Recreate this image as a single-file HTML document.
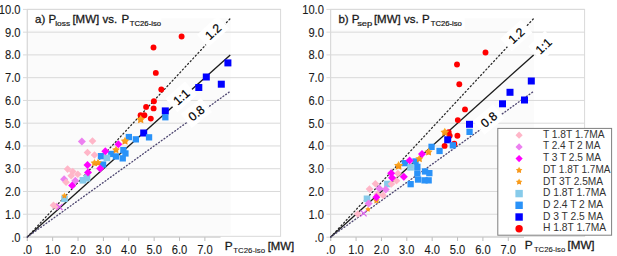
<!DOCTYPE html>
<html><head><meta charset="utf-8"><style>
html,body{margin:0;padding:0;background:#fff;}
body{width:617px;height:256px;overflow:hidden;}
svg{display:block;font-family:"Liberation Sans", sans-serif;}
text{stroke:#1a1a1a;stroke-width:0.1px;}
</style></head><body>
<svg width="617" height="256" viewBox="0 0 617 256">
<defs><linearGradient id="sg" x1="0" y1="0" x2="0" y2="1"><stop offset="0" stop-color="#ffb22c"/><stop offset="1" stop-color="#f48a0e"/></linearGradient></defs>
<rect x="27.30" y="9.4" width="253.30" height="226.90" fill="#fff" stroke="#d9d9d9" stroke-width="1"/>
<rect x="27.80" y="18.3" width="202.8" height="216.20" fill="#fbfbfb"/>
<line x1="23.00" y1="214.24" x2="280.60" y2="214.24" stroke="#d9d9d9" stroke-width="1"/>
<line x1="23.00" y1="191.48" x2="280.60" y2="191.48" stroke="#d9d9d9" stroke-width="1"/>
<line x1="23.00" y1="168.72" x2="280.60" y2="168.72" stroke="#d9d9d9" stroke-width="1"/>
<line x1="23.00" y1="145.96" x2="280.60" y2="145.96" stroke="#d9d9d9" stroke-width="1"/>
<line x1="23.00" y1="123.20" x2="280.60" y2="123.20" stroke="#d9d9d9" stroke-width="1"/>
<line x1="23.00" y1="100.44" x2="280.60" y2="100.44" stroke="#d9d9d9" stroke-width="1"/>
<line x1="23.00" y1="77.68" x2="280.60" y2="77.68" stroke="#d9d9d9" stroke-width="1"/>
<line x1="23.00" y1="54.92" x2="280.60" y2="54.92" stroke="#d9d9d9" stroke-width="1"/>
<line x1="23.00" y1="32.16" x2="280.60" y2="32.16" stroke="#d9d9d9" stroke-width="1"/>
<line x1="23.00" y1="9.40" x2="280.60" y2="9.40" stroke="#d9d9d9" stroke-width="1"/>
<line x1="23.00" y1="237.2" x2="220.60" y2="237.2" stroke="#cdcdcd" stroke-width="1"/>
<line x1="27.30" y1="9.4" x2="27.30" y2="241.00" stroke="#d9d9d9" stroke-width="1"/>
<line x1="27.30" y1="237.2" x2="27.30" y2="241.00" stroke="#bcbcbc" stroke-width="1"/>
<line x1="52.67" y1="237.2" x2="52.67" y2="241.00" stroke="#bcbcbc" stroke-width="1"/>
<line x1="78.04" y1="237.2" x2="78.04" y2="241.00" stroke="#bcbcbc" stroke-width="1"/>
<line x1="103.41" y1="237.2" x2="103.41" y2="241.00" stroke="#bcbcbc" stroke-width="1"/>
<line x1="128.78" y1="237.2" x2="128.78" y2="241.00" stroke="#bcbcbc" stroke-width="1"/>
<line x1="154.15" y1="237.2" x2="154.15" y2="241.00" stroke="#bcbcbc" stroke-width="1"/>
<line x1="179.52" y1="237.2" x2="179.52" y2="241.00" stroke="#bcbcbc" stroke-width="1"/>
<line x1="204.89" y1="237.2" x2="204.89" y2="241.00" stroke="#bcbcbc" stroke-width="1"/>
<text x="20.50" y="241.50" text-anchor="end" font-size="12" textLength="9.31" lengthAdjust="spacingAndGlyphs" fill="#1a1a1a">.0</text>
<text x="20.50" y="218.74" text-anchor="end" font-size="12" textLength="15.51" lengthAdjust="spacingAndGlyphs" fill="#1a1a1a">1.0</text>
<text x="20.50" y="195.98" text-anchor="end" font-size="12" textLength="15.51" lengthAdjust="spacingAndGlyphs" fill="#1a1a1a">2.0</text>
<text x="20.50" y="173.22" text-anchor="end" font-size="12" textLength="15.51" lengthAdjust="spacingAndGlyphs" fill="#1a1a1a">3.0</text>
<text x="20.50" y="150.46" text-anchor="end" font-size="12" textLength="15.51" lengthAdjust="spacingAndGlyphs" fill="#1a1a1a">4.0</text>
<text x="20.50" y="127.70" text-anchor="end" font-size="12" textLength="15.51" lengthAdjust="spacingAndGlyphs" fill="#1a1a1a">5.0</text>
<text x="20.50" y="104.94" text-anchor="end" font-size="12" textLength="15.51" lengthAdjust="spacingAndGlyphs" fill="#1a1a1a">6.0</text>
<text x="20.50" y="82.18" text-anchor="end" font-size="12" textLength="15.51" lengthAdjust="spacingAndGlyphs" fill="#1a1a1a">7.0</text>
<text x="20.50" y="59.42" text-anchor="end" font-size="12" textLength="15.51" lengthAdjust="spacingAndGlyphs" fill="#1a1a1a">8.0</text>
<text x="20.50" y="36.66" text-anchor="end" font-size="12" textLength="15.51" lengthAdjust="spacingAndGlyphs" fill="#1a1a1a">9.0</text>
<text x="20.50" y="13.90" text-anchor="end" font-size="12" textLength="21.72" lengthAdjust="spacingAndGlyphs" fill="#1a1a1a">10.0</text>
<text x="27.30" y="254.2" text-anchor="middle" font-size="12" textLength="9.31" lengthAdjust="spacingAndGlyphs" fill="#1a1a1a">.0</text>
<text x="52.67" y="254.2" text-anchor="middle" font-size="12" textLength="15.51" lengthAdjust="spacingAndGlyphs" fill="#1a1a1a">1.0</text>
<text x="78.04" y="254.2" text-anchor="middle" font-size="12" textLength="15.51" lengthAdjust="spacingAndGlyphs" fill="#1a1a1a">2.0</text>
<text x="103.41" y="254.2" text-anchor="middle" font-size="12" textLength="15.51" lengthAdjust="spacingAndGlyphs" fill="#1a1a1a">3.0</text>
<text x="128.78" y="254.2" text-anchor="middle" font-size="12" textLength="15.51" lengthAdjust="spacingAndGlyphs" fill="#1a1a1a">4.0</text>
<text x="154.15" y="254.2" text-anchor="middle" font-size="12" textLength="15.51" lengthAdjust="spacingAndGlyphs" fill="#1a1a1a">5.0</text>
<text x="179.52" y="254.2" text-anchor="middle" font-size="12" textLength="15.51" lengthAdjust="spacingAndGlyphs" fill="#1a1a1a">6.0</text>
<text x="204.89" y="254.2" text-anchor="middle" font-size="12" textLength="15.51" lengthAdjust="spacingAndGlyphs" fill="#1a1a1a">7.0</text>
<rect x="220.80" y="237.6" width="75" height="19" fill="#fff"/>
<text x="224.70" y="250.4" font-size="11.2" textLength="7.9" lengthAdjust="spacingAndGlyphs" fill="#1a1a1a" style="stroke-width:0.3px">P</text>
<text x="233.20" y="253.00" font-size="7.8" style="stroke-width:0.12px" textLength="31.9" lengthAdjust="spacingAndGlyphs" fill="#1a1a1a">TC26-iso</text>
<text x="267.70" y="250.4" font-size="11.2" textLength="26.5" lengthAdjust="spacingAndGlyphs" fill="#1a1a1a" style="stroke-width:0.3px">[MW]</text>
<rect x="28.30" y="10.2" width="133" height="19.5" fill="#fff"/>
<text x="35.00" y="23.4" font-size="11.5" fill="#1a1a1a" style="stroke-width:0.3px">a) P</text>
<text x="55.20" y="25.9" font-size="7.2" textLength="14.9" lengthAdjust="spacingAndGlyphs" fill="#1a1a1a" style="stroke-width:0.2px">loss</text>
<text x="72.40" y="23.4" font-size="11.5" fill="#1a1a1a" style="stroke-width:0.3px">[MW] vs.</text>
<text x="121.50" y="23.4" font-size="11.5" fill="#1a1a1a" style="stroke-width:0.3px">P</text>
<text x="129.80" y="25.9" font-size="7.2" textLength="31.3" lengthAdjust="spacingAndGlyphs" fill="#1a1a1a" style="stroke-width:0.2px">TC26-iso</text>
<line x1="27.30" y1="237.0" x2="230.26" y2="18.50" stroke="#262626" stroke-width="1.25" stroke-dasharray="1.2 2.6" stroke-linecap="round"/>
<line x1="27.30" y1="237.0" x2="230.26" y2="54.92" stroke="#1c1c1c" stroke-width="1.35"/>
<line x1="27.30" y1="237.0" x2="230.26" y2="91.34" stroke="#4f4872" stroke-width="1.35" stroke-dasharray="0.9 2.4" stroke-linecap="round"/>
<rect x="330.70" y="9.4" width="253.90" height="226.90" fill="#fff" stroke="#d9d9d9" stroke-width="1"/>
<rect x="331.20" y="18.3" width="202.8" height="216.20" fill="#fbfbfb"/>
<line x1="326.40" y1="214.24" x2="584.60" y2="214.24" stroke="#d9d9d9" stroke-width="1"/>
<line x1="326.40" y1="191.48" x2="584.60" y2="191.48" stroke="#d9d9d9" stroke-width="1"/>
<line x1="326.40" y1="168.72" x2="584.60" y2="168.72" stroke="#d9d9d9" stroke-width="1"/>
<line x1="326.40" y1="145.96" x2="584.60" y2="145.96" stroke="#d9d9d9" stroke-width="1"/>
<line x1="326.40" y1="123.20" x2="584.60" y2="123.20" stroke="#d9d9d9" stroke-width="1"/>
<line x1="326.40" y1="100.44" x2="584.60" y2="100.44" stroke="#d9d9d9" stroke-width="1"/>
<line x1="326.40" y1="77.68" x2="584.60" y2="77.68" stroke="#d9d9d9" stroke-width="1"/>
<line x1="326.40" y1="54.92" x2="584.60" y2="54.92" stroke="#d9d9d9" stroke-width="1"/>
<line x1="326.40" y1="32.16" x2="584.60" y2="32.16" stroke="#d9d9d9" stroke-width="1"/>
<line x1="326.40" y1="9.40" x2="584.60" y2="9.40" stroke="#d9d9d9" stroke-width="1"/>
<line x1="326.40" y1="237.2" x2="524.00" y2="237.2" stroke="#cdcdcd" stroke-width="1"/>
<line x1="330.70" y1="9.4" x2="330.70" y2="241.00" stroke="#d9d9d9" stroke-width="1"/>
<line x1="330.70" y1="237.2" x2="330.70" y2="241.00" stroke="#bcbcbc" stroke-width="1"/>
<line x1="356.07" y1="237.2" x2="356.07" y2="241.00" stroke="#bcbcbc" stroke-width="1"/>
<line x1="381.44" y1="237.2" x2="381.44" y2="241.00" stroke="#bcbcbc" stroke-width="1"/>
<line x1="406.81" y1="237.2" x2="406.81" y2="241.00" stroke="#bcbcbc" stroke-width="1"/>
<line x1="432.18" y1="237.2" x2="432.18" y2="241.00" stroke="#bcbcbc" stroke-width="1"/>
<line x1="457.55" y1="237.2" x2="457.55" y2="241.00" stroke="#bcbcbc" stroke-width="1"/>
<line x1="482.92" y1="237.2" x2="482.92" y2="241.00" stroke="#bcbcbc" stroke-width="1"/>
<line x1="508.29" y1="237.2" x2="508.29" y2="241.00" stroke="#bcbcbc" stroke-width="1"/>
<text x="323.90" y="241.50" text-anchor="end" font-size="12" textLength="9.31" lengthAdjust="spacingAndGlyphs" fill="#1a1a1a">.0</text>
<text x="323.90" y="218.74" text-anchor="end" font-size="12" textLength="15.51" lengthAdjust="spacingAndGlyphs" fill="#1a1a1a">1.0</text>
<text x="323.90" y="195.98" text-anchor="end" font-size="12" textLength="15.51" lengthAdjust="spacingAndGlyphs" fill="#1a1a1a">2.0</text>
<text x="323.90" y="173.22" text-anchor="end" font-size="12" textLength="15.51" lengthAdjust="spacingAndGlyphs" fill="#1a1a1a">3.0</text>
<text x="323.90" y="150.46" text-anchor="end" font-size="12" textLength="15.51" lengthAdjust="spacingAndGlyphs" fill="#1a1a1a">4.0</text>
<text x="323.90" y="127.70" text-anchor="end" font-size="12" textLength="15.51" lengthAdjust="spacingAndGlyphs" fill="#1a1a1a">5.0</text>
<text x="323.90" y="104.94" text-anchor="end" font-size="12" textLength="15.51" lengthAdjust="spacingAndGlyphs" fill="#1a1a1a">6.0</text>
<text x="323.90" y="82.18" text-anchor="end" font-size="12" textLength="15.51" lengthAdjust="spacingAndGlyphs" fill="#1a1a1a">7.0</text>
<text x="323.90" y="59.42" text-anchor="end" font-size="12" textLength="15.51" lengthAdjust="spacingAndGlyphs" fill="#1a1a1a">8.0</text>
<text x="323.90" y="36.66" text-anchor="end" font-size="12" textLength="15.51" lengthAdjust="spacingAndGlyphs" fill="#1a1a1a">9.0</text>
<text x="323.90" y="13.90" text-anchor="end" font-size="12" textLength="21.72" lengthAdjust="spacingAndGlyphs" fill="#1a1a1a">10.0</text>
<text x="330.70" y="254.2" text-anchor="middle" font-size="12" textLength="9.31" lengthAdjust="spacingAndGlyphs" fill="#1a1a1a">.0</text>
<text x="356.07" y="254.2" text-anchor="middle" font-size="12" textLength="15.51" lengthAdjust="spacingAndGlyphs" fill="#1a1a1a">1.0</text>
<text x="381.44" y="254.2" text-anchor="middle" font-size="12" textLength="15.51" lengthAdjust="spacingAndGlyphs" fill="#1a1a1a">2.0</text>
<text x="406.81" y="254.2" text-anchor="middle" font-size="12" textLength="15.51" lengthAdjust="spacingAndGlyphs" fill="#1a1a1a">3.0</text>
<text x="432.18" y="254.2" text-anchor="middle" font-size="12" textLength="15.51" lengthAdjust="spacingAndGlyphs" fill="#1a1a1a">4.0</text>
<text x="457.55" y="254.2" text-anchor="middle" font-size="12" textLength="15.51" lengthAdjust="spacingAndGlyphs" fill="#1a1a1a">5.0</text>
<text x="482.92" y="254.2" text-anchor="middle" font-size="12" textLength="15.51" lengthAdjust="spacingAndGlyphs" fill="#1a1a1a">6.0</text>
<text x="508.29" y="254.2" text-anchor="middle" font-size="12" textLength="15.51" lengthAdjust="spacingAndGlyphs" fill="#1a1a1a">7.0</text>
<rect x="524.20" y="237.6" width="75" height="19" fill="#fff"/>
<text x="524.70" y="249.2" font-size="11.2" textLength="7.9" lengthAdjust="spacingAndGlyphs" fill="#1a1a1a" style="stroke-width:0.3px">P</text>
<text x="533.90" y="251.80" font-size="7.8" style="stroke-width:0.12px" textLength="31.3" lengthAdjust="spacingAndGlyphs" fill="#1a1a1a">TC26-iso</text>
<text x="567.50" y="249.2" font-size="11.2" textLength="27.1" lengthAdjust="spacingAndGlyphs" fill="#1a1a1a" style="stroke-width:0.3px">[MW]</text>
<rect x="331.70" y="10.2" width="133" height="19.5" fill="#fff"/>
<text x="338.40" y="23.4" font-size="11.5" fill="#1a1a1a" style="stroke-width:0.3px">b) P</text>
<text x="357.20" y="25.9" font-size="7.2" textLength="15.1" lengthAdjust="spacingAndGlyphs" fill="#1a1a1a" style="stroke-width:0.2px">sep</text>
<text x="373.90" y="23.4" font-size="11.5" fill="#1a1a1a" style="stroke-width:0.3px">[MW] vs.</text>
<text x="422.10" y="23.4" font-size="11.5" fill="#1a1a1a" style="stroke-width:0.3px">P</text>
<text x="430.80" y="25.9" font-size="7.2" textLength="31.1" lengthAdjust="spacingAndGlyphs" fill="#1a1a1a" style="stroke-width:0.2px">TC26-iso</text>
<line x1="330.70" y1="237.0" x2="533.66" y2="18.50" stroke="#262626" stroke-width="1.25" stroke-dasharray="1.2 2.6" stroke-linecap="round"/>
<line x1="330.70" y1="237.0" x2="533.66" y2="54.92" stroke="#1c1c1c" stroke-width="1.35"/>
<line x1="330.70" y1="237.0" x2="533.66" y2="91.34" stroke="#4f4872" stroke-width="1.35" stroke-dasharray="0.9 2.4" stroke-linecap="round"/>
<g transform="translate(213.00,31.60) rotate(-42.5)"><rect x="-14.0" y="-8.5" width="28" height="17" fill="#fff"/><text x="0" y="4.39" text-anchor="middle" font-size="12.2" fill="#000" style="stroke:#000;stroke-width:0.2px">1.2</text></g>
<g transform="translate(181.20,96.80) rotate(-41.5)"><rect x="-13.0" y="-9.0" width="26" height="18" fill="#fff"/><text x="0" y="4.39" text-anchor="middle" font-size="12.2" fill="#000" style="stroke:#000;stroke-width:0.2px">1:1</text></g>
<g transform="translate(196.30,113.00) rotate(-38.3)"><rect x="-13.0" y="-9.0" width="26" height="18" fill="#fff"/><text x="0" y="4.39" text-anchor="middle" font-size="12.2" fill="#000" style="stroke:#000;stroke-width:0.2px">0.8</text></g>
<g transform="translate(516.30,35.60) rotate(-42.5)"><rect x="-14.0" y="-8.5" width="28" height="17" fill="#fff"/><text x="0" y="4.39" text-anchor="middle" font-size="12.2" fill="#000" style="stroke:#000;stroke-width:0.2px">1.2</text></g>
<g transform="translate(543.40,46.00) rotate(-43)"><rect x="-11.5" y="-10.0" width="23" height="20" fill="#fff"/><text x="0" y="4.39" text-anchor="middle" font-size="12.2" fill="#000" style="stroke:#000;stroke-width:0.2px">1:1</text></g>
<g transform="translate(488.80,119.50) rotate(-39.6)"><rect x="-13.0" y="-9.0" width="26" height="18" fill="#fff"/><text x="0" y="4.39" text-anchor="middle" font-size="12.2" fill="#000" style="stroke:#000;stroke-width:0.2px">0.8</text></g>
<circle cx="181.6" cy="36.5" r="2.95" fill="#ff0000"/>
<circle cx="153.5" cy="47.5" r="2.95" fill="#ff0000"/>
<circle cx="155.8" cy="72.9" r="2.95" fill="#ff0000"/>
<circle cx="161.3" cy="89.5" r="2.95" fill="#ff0000"/>
<circle cx="153.9" cy="101.2" r="2.95" fill="#ff0000"/>
<circle cx="146.1" cy="106.9" r="2.95" fill="#ff0000"/>
<circle cx="153.6" cy="108.4" r="2.95" fill="#ff0000"/>
<circle cx="144.4" cy="115.3" r="2.95" fill="#ff0000"/>
<circle cx="140.6" cy="115.3" r="2.95" fill="#ff0000"/>
<circle cx="150.8" cy="118.6" r="2.95" fill="#ff0000"/>
<circle cx="485.5" cy="52.5" r="2.95" fill="#ff0000"/>
<circle cx="457.0" cy="64.5" r="2.95" fill="#ff0000"/>
<circle cx="459.3" cy="84.3" r="2.95" fill="#ff0000"/>
<circle cx="465.0" cy="109.4" r="2.95" fill="#ff0000"/>
<circle cx="457.8" cy="120.1" r="2.95" fill="#ff0000"/>
<circle cx="448.7" cy="132.1" r="2.95" fill="#ff0000"/>
<circle cx="449.7" cy="135.7" r="2.95" fill="#ff0000"/>
<circle cx="457.4" cy="135.7" r="2.95" fill="#ff0000"/>
<circle cx="444.6" cy="145.9" r="2.95" fill="#ff0000"/>
<circle cx="454.3" cy="143.8" r="2.95" fill="#ff0000"/>
<rect x="224.4" y="59.4" width="7.0" height="7.0" fill="#0000ff"/>
<rect x="202.8" y="73.5" width="7.0" height="7.0" fill="#0000ff"/>
<rect x="217.8" y="80.7" width="7.0" height="7.0" fill="#0000ff"/>
<rect x="195.3" y="84.0" width="7.0" height="7.0" fill="#0000ff"/>
<rect x="161.8" y="107.4" width="7.0" height="7.0" fill="#0000ff"/>
<rect x="140.2" y="129.5" width="7.0" height="7.0" fill="#0000ff"/>
<rect x="527.8" y="77.5" width="7.0" height="7.0" fill="#0000ff"/>
<rect x="506.5" y="88.8" width="7.0" height="7.0" fill="#0000ff"/>
<rect x="499.0" y="100.3" width="7.0" height="7.0" fill="#0000ff"/>
<rect x="521.0" y="96.5" width="7.0" height="7.0" fill="#0000ff"/>
<rect x="466.0" y="120.8" width="7.0" height="7.0" fill="#0000ff"/>
<rect x="444.2" y="136.3" width="7.0" height="7.0" fill="#0000ff"/>
<rect x="125.7" y="133.9" width="6.3" height="6.3" fill="#2a92f8"/>
<rect x="132.7" y="136.2" width="6.3" height="6.3" fill="#2a92f8"/>
<rect x="145.9" y="134.2" width="6.3" height="6.3" fill="#2a92f8"/>
<rect x="120.2" y="147.0" width="6.3" height="6.3" fill="#2a92f8"/>
<rect x="122.3" y="150.3" width="6.3" height="6.3" fill="#2a92f8"/>
<rect x="119.6" y="155.2" width="6.3" height="6.3" fill="#2a92f8"/>
<rect x="108.1" y="150.8" width="6.3" height="6.3" fill="#2a92f8"/>
<rect x="97.8" y="153.0" width="6.3" height="6.3" fill="#2a92f8"/>
<rect x="99.9" y="161.4" width="6.3" height="6.3" fill="#2a92f8"/>
<rect x="112.8" y="153.3" width="6.3" height="6.3" fill="#2a92f8"/>
<rect x="162.2" y="114.1" width="6.3" height="6.3" fill="#2a92f8"/>
<rect x="428.4" y="143.7" width="6.3" height="6.3" fill="#2a92f8"/>
<rect x="436.4" y="147.8" width="6.3" height="6.3" fill="#2a92f8"/>
<rect x="412.4" y="158.3" width="6.3" height="6.3" fill="#2a92f8"/>
<rect x="401.7" y="160.0" width="6.3" height="6.3" fill="#2a92f8"/>
<rect x="414.2" y="163.7" width="6.3" height="6.3" fill="#2a92f8"/>
<rect x="414.2" y="170.2" width="6.3" height="6.3" fill="#2a92f8"/>
<rect x="414.9" y="176.4" width="6.3" height="6.3" fill="#2a92f8"/>
<rect x="421.9" y="168.3" width="6.3" height="6.3" fill="#2a92f8"/>
<rect x="426.2" y="170.0" width="6.3" height="6.3" fill="#2a92f8"/>
<rect x="421.4" y="177.2" width="6.3" height="6.3" fill="#2a92f8"/>
<rect x="425.5" y="177.2" width="6.3" height="6.3" fill="#2a92f8"/>
<rect x="407.5" y="181.0" width="6.3" height="6.3" fill="#2a92f8"/>
<rect x="449.7" y="142.2" width="6.3" height="6.3" fill="#2a92f8"/>
<rect x="466.4" y="128.7" width="6.3" height="6.3" fill="#2a92f8"/>
<rect x="79.6" y="177.0" width="6.6" height="6.6" fill="#87cbea"/>
<rect x="83.7" y="174.9" width="6.6" height="6.6" fill="#87cbea"/>
<rect x="61.2" y="195.5" width="6.6" height="6.6" fill="#87cbea"/>
<rect x="103.6" y="154.6" width="6.6" height="6.6" fill="#87cbea"/>
<rect x="384.1" y="180.7" width="6.6" height="6.6" fill="#87cbea"/>
<rect x="363.7" y="195.5" width="6.6" height="6.6" fill="#87cbea"/>
<rect x="407.3" y="164.0" width="6.6" height="6.6" fill="#87cbea"/>
<polygon points="125.00,136.80 126.42,139.24 129.18,139.84 127.30,141.95 127.59,144.76 125.00,143.62 122.41,144.76 122.70,141.95 120.82,139.84 123.58,139.24" fill="url(#sg)"/>
<polygon points="116.00,145.80 117.33,148.08 119.90,148.63 118.14,150.60 118.41,153.22 116.00,152.16 113.59,153.22 113.86,150.60 112.10,148.63 114.67,148.08" fill="url(#sg)"/>
<polygon points="94.50,159.00 95.79,161.22 98.30,161.76 96.59,163.68 96.85,166.24 94.50,165.20 92.15,166.24 92.41,163.68 90.70,161.76 93.21,161.22" fill="url(#sg)"/>
<polygon points="98.00,158.80 99.29,161.02 101.80,161.56 100.09,163.48 100.35,166.04 98.00,165.00 95.65,166.04 95.91,163.48 94.20,161.56 96.71,161.02" fill="url(#sg)"/>
<polygon points="64.40,192.60 65.43,194.38 67.44,194.81 66.07,196.34 66.28,198.39 64.40,197.56 62.52,198.39 62.73,196.34 61.36,194.81 63.37,194.38" fill="url(#sg)"/>
<polygon points="428.60,147.90 429.96,150.23 432.59,150.80 430.80,152.81 431.07,155.50 428.60,154.41 426.13,155.50 426.40,152.81 424.61,150.80 427.24,150.23" fill="url(#sg)"/>
<polygon points="419.40,154.60 420.76,156.93 423.39,157.50 421.60,159.51 421.87,162.20 419.40,161.11 416.93,162.20 417.20,159.51 415.41,157.50 418.04,156.93" fill="url(#sg)"/>
<polygon points="398.60,161.00 400.15,163.66 403.17,164.32 401.11,166.62 401.42,169.68 398.60,168.44 395.78,169.68 396.09,166.62 394.03,164.32 397.05,163.66" fill="url(#sg)"/>
<polygon points="376.40,197.10 377.53,199.04 379.73,199.52 378.23,201.19 378.46,203.43 376.40,202.53 374.34,203.43 374.57,201.19 373.07,199.52 375.27,199.04" fill="url(#sg)"/>
<polygon points="368.00,206.50 368.94,208.11 370.76,208.50 369.52,209.89 369.70,211.75 368.00,211.00 366.30,211.75 366.48,209.89 365.24,208.50 367.06,208.11" fill="url(#sg)"/>
<polygon points="140.70,115.10 142.15,117.60 144.98,118.21 143.05,120.36 143.35,123.24 140.70,122.07 138.05,123.24 138.35,120.36 136.42,118.21 139.25,117.60" fill="url(#sg)"/>
<polygon points="444.80,127.70 446.29,130.25 449.17,130.88 447.21,133.08 447.50,136.02 444.80,134.83 442.10,136.02 442.39,133.08 440.43,130.88 443.31,130.25" fill="url(#sg)"/>
<path d="M81.9 137.5L85.9 141.5L81.9 145.5L77.9 141.5Z" fill="#ec7ff0"/>
<path d="M64.1 175.3L68.1 179.3L64.1 183.3L60.1 179.3Z" fill="#ec7ff0"/>
<path d="M75.3 176.8L79.3 180.8L75.3 184.8L71.3 180.8Z" fill="#ec7ff0"/>
<path d="M379.3 184.6L383.3 188.6L379.3 192.6L375.3 188.6Z" fill="#ec7ff0"/>
<path d="M385.7 185.5L389.7 189.5L385.7 193.5L381.7 189.5Z" fill="#ec7ff0"/>
<path d="M368.6 199.6L372.6 203.6L368.6 207.6L364.6 203.6Z" fill="#ec7ff0"/>
<path d="M92.5 137.2L96.3 141.0L92.5 144.8L88.7 141.0Z" fill="#ffb6c8"/>
<path d="M87.5 148.7L91.3 152.5L87.5 156.3L83.7 152.5Z" fill="#ffb6c8"/>
<path d="M94.5 151.2L98.3 155.0L94.5 158.8L90.7 155.0Z" fill="#ffb6c8"/>
<path d="M67.6 165.3L71.4 169.1L67.6 172.9L63.8 169.1Z" fill="#ffb6c8"/>
<path d="M72.7 167.8L76.5 171.6L72.7 175.4L68.9 171.6Z" fill="#ffb6c8"/>
<path d="M77.8 170.4L81.6 174.2L77.8 178.0L74.0 174.2Z" fill="#ffb6c8"/>
<path d="M71.2 171.9L75.0 175.7L71.2 179.5L67.4 175.7Z" fill="#ffb6c8"/>
<path d="M66.1 178.5L69.9 182.3L66.1 186.1L62.3 182.3Z" fill="#ffb6c8"/>
<path d="M53.5 201.5L57.3 205.3L53.5 209.1L49.7 205.3Z" fill="#ffb6c8"/>
<path d="M56.5 202.4L60.3 206.2L56.5 210.0L52.7 206.2Z" fill="#ffb6c8"/>
<path d="M397.9 169.7L401.7 173.5L397.9 177.3L394.1 173.5Z" fill="#ffb6c8"/>
<path d="M396.5 176.9L400.3 180.7L396.5 184.5L392.7 180.7Z" fill="#ffb6c8"/>
<path d="M391.4 180.2L395.2 184.0L391.4 187.8L387.6 184.0Z" fill="#ffb6c8"/>
<path d="M375.4 179.9L379.2 183.7L375.4 187.5L371.6 183.7Z" fill="#ffb6c8"/>
<path d="M369.5 185.3L373.3 189.1L369.5 192.9L365.7 189.1Z" fill="#ffb6c8"/>
<path d="M377.3 190.6L381.1 194.4L377.3 198.2L373.5 194.4Z" fill="#ffb6c8"/>
<path d="M383.2 191.6L387.0 195.4L383.2 199.2L379.4 195.4Z" fill="#ffb6c8"/>
<path d="M357.8 210.2L361.6 214.0L357.8 217.8L354.0 214.0Z" fill="#ffb6c8"/>
<path d="M118.4 140.2L122.4 144.2L118.4 148.2L114.4 144.2Z" fill="#ff00ff"/>
<path d="M105.3 147.3L109.3 151.3L105.3 155.3L101.3 151.3Z" fill="#ff00ff"/>
<path d="M87.5 161.0L91.5 165.0L87.5 169.0L83.5 165.0Z" fill="#ff00ff"/>
<path d="M100.2 164.4L104.2 168.4L100.2 172.4L96.2 168.4Z" fill="#ff00ff"/>
<path d="M88.0 168.6L92.0 172.6L88.0 176.6L84.0 172.6Z" fill="#ff00ff"/>
<path d="M72.2 181.4L76.2 185.4L72.2 189.4L68.2 185.4Z" fill="#ff00ff"/>
<path d="M422.0 150.0L426.0 154.0L422.0 158.0L418.0 154.0Z" fill="#ff00ff"/>
<path d="M409.6 156.6L413.6 160.6L409.6 164.6L405.6 160.6Z" fill="#ff00ff"/>
<path d="M391.2 169.2L395.2 173.2L391.2 177.2L387.2 173.2Z" fill="#ff00ff"/>
<path d="M392.0 173.8L396.0 177.8L392.0 181.8L388.0 177.8Z" fill="#ff00ff"/>
<path d="M403.8 172.8L407.8 176.8L403.8 180.8L399.8 176.8Z" fill="#ff00ff"/>
<path d="M376.4 193.3L380.4 197.3L376.4 201.3L372.4 197.3Z" fill="#ff00ff"/>
<path d="M56.5 204.0L62.5 210.0M56.5 210.0L62.5 204.0" stroke="#e060f0" stroke-width="1.2"/>
<path d="M360.6 210.3L366.6 216.3M360.6 216.3L366.6 210.3" stroke="#e060f0" stroke-width="1.2"/>
<rect x="497.8" y="128.4" width="113.8" height="106.8" fill="#fff" stroke="#7f7f7f" stroke-width="1"/>
<path d="M519.1 131.6L522.7 135.2L519.1 138.8L515.5 135.2Z" fill="#ffb6c8"/>
<text x="542.9" y="137.80" font-size="10.8" textLength="61.6" lengthAdjust="spacingAndGlyphs" fill="#333" style="stroke-width:0">T 1.8T 1.7MA</text>
<path d="M519.1 143.3L522.7 146.9L519.1 150.5L515.5 146.9Z" fill="#ec7ff0"/>
<text x="542.9" y="149.49" font-size="10.8" textLength="57.5" lengthAdjust="spacingAndGlyphs" fill="#333" style="stroke-width:0">T 2.4 T 2 MA</text>
<path d="M519.1 155.0L522.7 158.6L519.1 162.2L515.5 158.6Z" fill="#ff00ff"/>
<text x="542.9" y="161.18" font-size="10.8" textLength="58.1" lengthAdjust="spacingAndGlyphs" fill="#333" style="stroke-width:0">T 3 T 2.5 MA</text>
<polygon points="519.10,166.87 520.20,168.76 522.33,169.22 520.88,170.85 521.10,173.02 519.10,172.14 517.10,173.02 517.32,170.85 515.87,169.22 518.00,168.76" fill="url(#sg)"/>
<text x="542.9" y="172.87" font-size="10.8" textLength="67.5" lengthAdjust="spacingAndGlyphs" fill="#333" style="stroke-width:0">DT 1.8T 1.7MA</text>
<polygon points="519.10,178.56 520.20,180.45 522.33,180.91 520.88,182.54 521.10,184.71 519.10,183.83 517.10,184.71 517.32,182.54 515.87,180.91 518.00,180.45" fill="url(#sg)"/>
<text x="542.9" y="184.56" font-size="10.8" textLength="60.2" lengthAdjust="spacingAndGlyphs" fill="#333" style="stroke-width:0">DT 3T 2.5MA</text>
<rect x="515.4" y="189.9" width="7.4" height="7.4" fill="#87cbea"/>
<text x="542.9" y="196.25" font-size="10.8" textLength="63.3" lengthAdjust="spacingAndGlyphs" fill="#333" style="stroke-width:0">D 1.8T 1.7MA</text>
<rect x="515.4" y="201.6" width="7.4" height="7.4" fill="#2a92f8"/>
<text x="542.9" y="207.94" font-size="10.8" textLength="60.2" lengthAdjust="spacingAndGlyphs" fill="#333" style="stroke-width:0">D 2.4 T 2 MA</text>
<rect x="515.4" y="213.3" width="7.4" height="7.4" fill="#0000ff"/>
<text x="542.9" y="219.63" font-size="10.8" textLength="60.2" lengthAdjust="spacingAndGlyphs" fill="#333" style="stroke-width:0">D 3 T 2.5 MA</text>
<circle cx="519.1" cy="228.7" r="3.7" fill="#ff0000"/>
<text x="542.9" y="231.32" font-size="10.8" textLength="63.3" lengthAdjust="spacingAndGlyphs" fill="#333" style="stroke-width:0">H 1.8T 1.7MA</text>
</svg>
</body></html>
